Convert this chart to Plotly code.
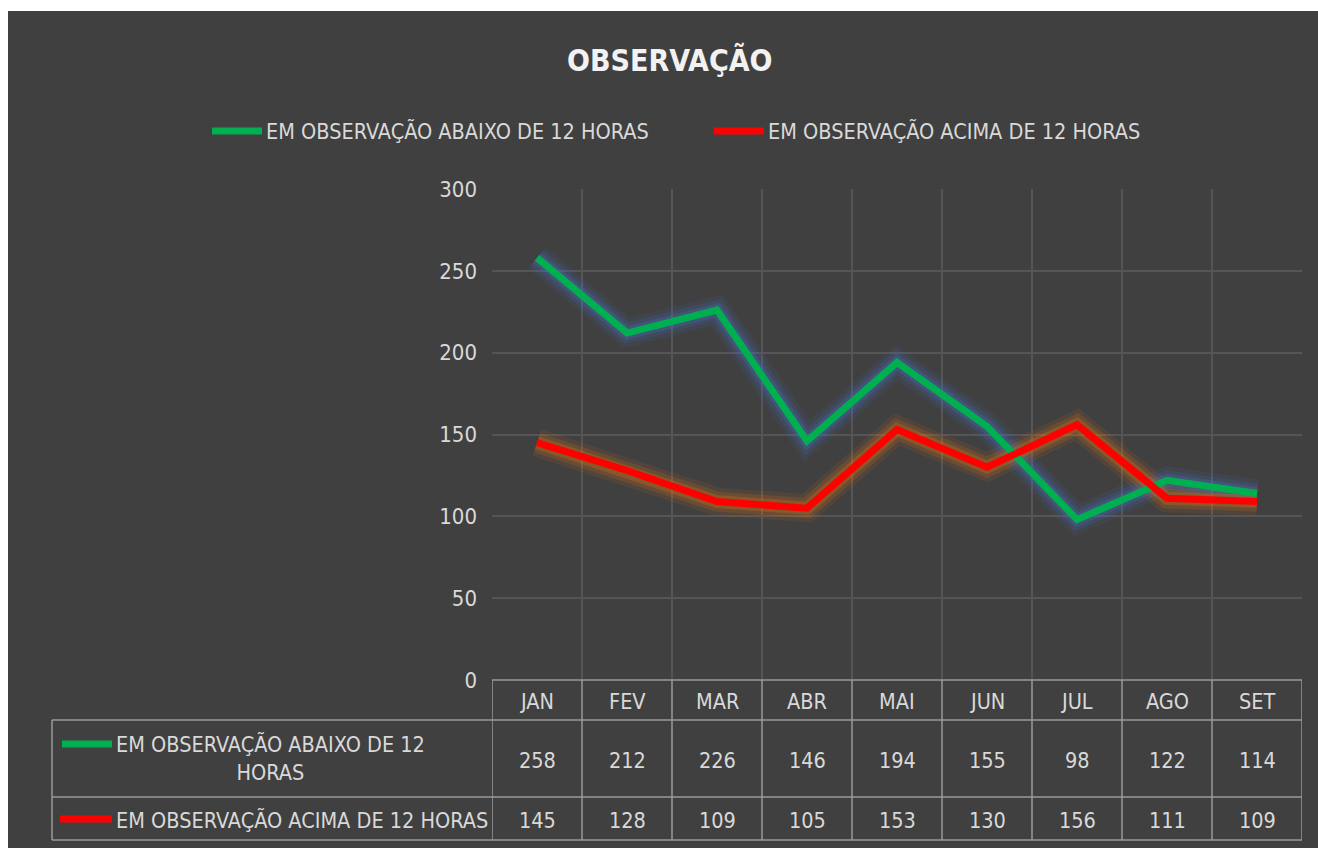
import plotly.graph_objects as go

months = ["JAN", "FEV", "MAR", "ABR", "MAI", "JUN", "JUL", "AGO", "SET"]
abaixo = [258, 212, 226, 146, 194, 155, 98, 122, 114]
acima = [145, 128, 109, 105, 153, 130, 156, 111, 109]
name_abaixo = "EM OBSERVAÇÃO ABAIXO DE 12 HORAS"
name_acima = "EM OBSERVAÇÃO ACIMA DE 12 HORAS"
title = "OBSERVAÇÃO"
y_ticks = [0, 50, 100, 150, 200, 250, 300]

W, H = 1318, 848
BG = "#404040"
GRID = "#555555"
TABLE_LINE = "#9a9a9a"
TXT = "#d9d9d9"
FONT = "Liberation Sans Narrow, DejaVu Sans Condensed, Roboto, sans-serif"
GREEN = "#00B050"
RED = "#FF0000"


def px(x):
    return x / W


def py(y):
    return 1 - y / H


fig = go.Figure()
# soft glow traces
for w, a in [(28, 0.10), (20, 0.16), (13, 0.25)]:
    fig.add_trace(go.Scatter(x=months, y=abaixo, mode="lines", showlegend=False, hoverinfo="skip",
                             line=dict(color=f"rgba(70,110,200,{a})", width=w)))
    fig.add_trace(go.Scatter(x=months, y=acima, mode="lines", showlegend=False, hoverinfo="skip",
                             line=dict(color=f"rgba(235,120,20,{a})", width=w)))
fig.add_trace(go.Scatter(x=months, y=abaixo, mode="lines", name=name_abaixo, showlegend=False,
                         line=dict(color=GREEN, width=7)))
fig.add_trace(go.Scatter(x=months, y=acima, mode="lines", name=name_acima, showlegend=False,
                         line=dict(color=RED, width=7)))

shapes = []
# dark background panel
shapes.append(dict(type="rect", xref="paper", yref="paper", x0=px(8), x1=1, y0=0, y1=py(11),
                   fillcolor=BG, line=dict(width=0), layer="below"))

# table grid
n = len(months)
line_style = dict(color=TABLE_LINE, width=1.5)
for yy in [720, 797, 840]:
    shapes.append(dict(type="line", xref="paper", yref="paper", x0=px(52), x1=px(1302),
                       y0=py(yy), y1=py(yy), line=line_style))
shapes.append(dict(type="line", xref="paper", yref="paper", x0=px(492), x1=px(1302),
                   y0=py(680), y1=py(680), line=line_style))
shapes.append(dict(type="line", xref="paper", yref="paper", x0=px(52), x1=px(52),
                   y0=py(720), y1=py(840), line=line_style))
for i in range(n + 1):
    shapes.append(dict(type="line", xref="x", yref="paper", x0=i - 0.5, x1=i - 0.5,
                       y0=py(680), y1=py(840), line=line_style))


def key(x0, x1, y, c):
    return dict(type="line", xref="paper", yref="paper", x0=px(x0), x1=px(x1),
                y0=py(y), y1=py(y), line=dict(color=c, width=7))


shapes += [key(212, 262, 131, GREEN), key(714, 764, 131, RED),
           key(62, 112, 744, GREEN), key(60, 112, 819, RED)]

ann = []
tfont = dict(family=FONT, size=21.5, color=TXT)


def label(x, y, text, xref="paper", xanchor="center", font=tfont):
    return dict(x=x, y=y, xref=xref, yref="paper", text=text, showarrow=False,
                xanchor=xanchor, yanchor="middle", font=font, align="center")


for i, m in enumerate(months):
    ann.append(label(m, py(701), m, xref="x"))
    ann.append(label(m, py(760), str(abaixo[i]), xref="x"))
    ann.append(label(m, py(820), str(acima[i]), xref="x"))
ann.append(label(px(270), py(758), "EM OBSERVAÇÃO ABAIXO DE 12<br>HORAS"))
ann.append(label(px(114), py(820), name_acima, xanchor="left"))
# top legend texts
ann.append(label(px(264), py(131), name_abaixo, xanchor="left"))
ann.append(label(px(766), py(131), name_acima, xanchor="left"))
# title
ann.append(label(px(670), py(60), "<b>" + title + "</b>",
                 font=dict(family=FONT, size=30, color="#f2f2f2")))

fig.update_layout(
    width=W, height=H,
    margin=dict(l=0, r=0, t=0, b=0),
    paper_bgcolor="white",
    plot_bgcolor=BG,
    showlegend=False,
    xaxis=dict(domain=[px(492), px(1302)], type="category", tickson="boundaries",
               showticklabels=False, showgrid=True, gridcolor=GRID, gridwidth=1.5,
               ticks="", showline=False, zeroline=False, range=[-0.5, n - 0.5], automargin=False),
    yaxis=dict(domain=[py(680), py(189)], range=[0, 300], tickvals=y_ticks,
               showgrid=True, gridcolor=GRID, gridwidth=1.5, zeroline=False, automargin=False,
               tickfont=dict(family=FONT, size=22, color=TXT), ticklabelstandoff=14),
    shapes=shapes,
    annotations=ann,
    hovermode=False,
)

fig.write_html("out.html", config={"displayModeBar": False},
               post_script="document.body.style.margin='0';")
